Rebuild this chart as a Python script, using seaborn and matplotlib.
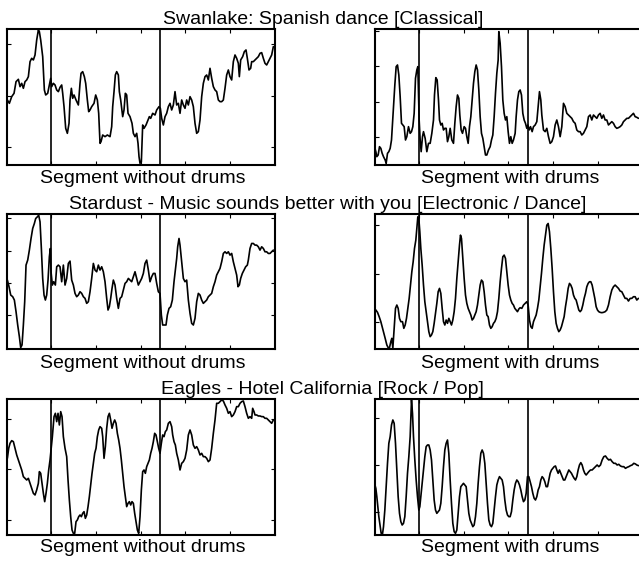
import matplotlib
matplotlib.use("Agg")
import matplotlib.pyplot as plt
import seaborn as sns
import pandas as pd

# ---------------- data (lag, autocorrelation in arbitrary units) ----------------
titles = [
    "Swanlake: Spanish dance [Classical]",
    "Stardust - Music sounds better with you [Electronic / Dance]",
    "Eagles - Hotel California [Rock / Pop]",
]
segment_labels = ["Segment without drums", "Segment with drums"]

swan_without = [(2,195),(8,185),(15,205),(22,215),(28,250),(35,257),(40,235),(45,245),(50,230),(55,250),(60,255),(65,265),(70,310),(75,320),(80,315),(85,330),(90,375),(95,405),(98,400),(102,375),(108,325),(113,225),(117,210),(123,215),(128,240),(132,260),(135,235),(140,245),(145,240),(150,225),(155,220),(160,233),(165,240),(168,215),(172,175),(177,110),(182,95),(187,125),(190,195),(194,230),(198,200),(202,210),(208,195),(215,180),(220,245),(223,275),(228,280),(233,265),(237,245),(242,195),(246,160),(250,165),(255,175),(262,185),(267,210),(272,195),(276,155),(280,65),(283,70),(288,90),(295,85),(302,90),(310,85),(315,115),(318,175),(322,220),(326,270),(330,280),(335,270),(338,220),(342,195),(348,145),(352,165),(356,215),(360,210),(364,155),(370,145),(376,125),(380,95),(385,85),(390,95),(394,65),(397,25),(400,5),(404,10),(408,120),(412,110),(418,120),(422,130),(428,145),(432,140),(438,155),(445,150),(450,165),(457,175),(461,170),(465,140),(470,120),(475,145),(480,155),(485,175),(490,185),(495,165),(500,180),(505,220),(510,180),(515,185),(520,155),(525,195),(530,180),(535,170),(540,195),(545,180),(550,205),(555,195),(560,175),(565,125),(570,95),(575,100),(580,135),(585,205),(590,245),(595,265),(600,270),(605,255),(610,290),(615,260),(620,235),(625,225),(630,220),(635,195),(640,190),(645,190),(650,195),(655,230),(660,270),(665,285),(670,265),(675,255),(680,310),(685,330),(690,320),(695,305),(698,265),(702,315),(708,325),(713,340),(718,345),(722,320),(727,285),(732,290),(735,310),(740,310),(745,315),(750,320),(755,325),(760,335),(765,337),(770,320),(775,305),(780,300),(785,310),(790,320),(795,330),(800,355)]

swan_with = [(0,55),(4,40),(7,25),(11,30),(15,55),(19,50),(23,35),(27,25),(32,15),(35,5),(39,35),(43,40),(47,50),(51,75),(54,125),(57,175),(61,240),(65,295),(69,300),(73,270),(77,205),(81,125),(85,120),(89,115),(93,75),(97,85),(102,115),(107,95),(111,100),(115,115),(119,155),(123,260),(127,285),(130,295),(134,135),(137,75),(140,40),(144,85),(147,100),(152,80),(157,40),(162,65),(167,65),(172,95),(177,135),(180,210),(184,262),(188,255),(192,195),(195,135),(199,120),(203,125),(207,105),(211,110),(215,110),(219,70),(223,85),(227,110),(232,75),(237,65),(241,125),(245,175),(249,210),(253,200),(256,150),(260,105),(264,95),(269,115),(273,110),(277,85),(281,65),(285,115),(289,145),(293,195),(297,245),(301,280),(305,300),(309,285),(313,225),(317,145),(321,95),(325,80),(329,55),(333,30),(337,30),(342,45),(347,55),(351,75),(355,90),(359,145),(363,215),(367,275),(371,315),(373,400),(377,365),(381,295),(385,195),(389,155),(393,135),(397,145),(401,100),(405,65),(409,85),(413,65),(417,75),(422,95),(425,145),(429,195),(433,220),(437,225),(441,210),(445,155),(449,135),(453,125),(457,110),(460,120),(464,105),(468,115),(473,100),(477,115),(482,120),(487,130),(492,185),(495,220),(499,195),(502,150),(507,105),(512,100),(517,110),(522,85),(527,65),(532,70),(537,85),(542,120),(547,135),(552,115),(557,85),(562,115),(567,185),(572,175),(577,155),(582,150),(587,145),(592,140),(597,130),(602,125),(607,105),(612,100),(617,100),(622,90),(627,95),(632,105),(637,115),(642,145),(647,150),(652,135),(657,150),(662,145),(667,140),(672,150),(677,155),(682,140),(687,150),(692,135),(697,135),(702,120),(707,125),(712,130),(717,125),(722,115),(727,110),(732,112),(737,115),(742,120),(747,130),(752,135),(757,140),(762,140),(767,145),(772,150),(777,155),(782,145),(787,143),(792,140)]

stardust_without = [(2,208),(7,188),(12,163),(18,158),(23,148),(28,113),(33,73),(38,38),(42,5),(46,13),(50,73),(54,143),(58,253),(63,268),(68,298),(73,333),(78,363),(83,378),(87,393),(92,398),(96,403),(100,383),(104,303),(108,213),(112,163),(116,148),(120,163),(124,208),(128,278),(131,303),(133,233),(137,193),(141,203),(146,193),(150,248),(155,253),(160,248),(165,203),(170,253),(175,193),(180,213),(185,258),(190,265),(195,208),(200,193),(205,168),(210,158),(215,163),(220,173),(225,168),(230,158),(235,153),(240,138),(245,143),(250,173),(255,213),(260,258),(265,238),(270,233),(275,253),(280,238),(285,248),(290,233),(295,203),(300,153),(304,118),(308,128),(312,153),(316,183),(320,208),(325,193),(330,153),(335,123),(340,153),(345,158),(350,178),(355,198),(360,203),(365,213),(370,208),(375,203),(380,218),(385,233),(390,213),(395,193),(400,203),(405,213),(410,228),(415,258),(420,268),(425,238),(430,203),(435,218),(440,228),(445,228),(450,198),(455,173),(460,168),(464,103),(468,73),(473,73),(478,73),(482,103),(487,123),(492,128),(497,148),(502,203),(506,238),(510,273),(513,308),(517,333),(520,313),(525,263),(530,213),(535,203),(540,208),(545,148),(550,108),(555,78),(560,73),(565,93),(570,143),(575,168),(580,163),(585,148),(590,138),(595,143),(600,148),(605,158),(610,163),(615,168),(620,188),(625,203),(630,223),(635,233),(640,243),(645,263),(650,288),(655,293),(660,288),(665,293),(670,283),(675,288),(680,263),(685,243),(690,223),(694,188),(698,193),(702,213),(707,228),(712,238),(717,248),(722,253),(725,268),(730,303),(735,318),(740,318),(745,313),(750,313),(755,308),(760,298),(765,308),(770,303),(775,293),(780,293),(785,288),(790,288),(795,293),(800,298)]

stardust_with = [(0,123),(4,118),(9,111),(14,98),(19,83),(23,68),(27,53),(32,33),(37,13),(42,3),(45,5),(49,23),(52,33),(55,3),(57,33),(60,73),(63,123),(67,133),(71,123),(75,93),(79,83),(84,83),(88,63),(92,73),(96,93),(100,123),(104,153),(108,193),(112,233),(116,263),(120,303),(124,328),(127,363),(130,398),(133,393),(136,353),(139,303),(143,253),(147,193),(151,143),(155,113),(159,83),(163,53),(167,38),(171,43),(175,53),(179,78),(183,108),(187,138),(191,173),(195,183),(199,168),(203,123),(207,83),(211,73),(215,88),(219,78),(223,93),(227,83),(231,73),(235,88),(239,113),(243,153),(247,213),(251,263),(255,313),(258,343),(261,333),(265,273),(269,213),(273,163),(277,138),(281,123),(285,113),(289,103),(293,88),(297,93),(301,103),(305,113),(309,133),(313,163),(317,193),(321,208),(325,203),(329,173),(333,133),(337,103),(341,98),(345,73),(349,63),(353,68),(357,78),(361,83),(365,93),(369,113),(373,153),(377,203),(381,243),(385,278),(389,283),(393,273),(397,233),(401,193),(405,163),(409,148),(413,138),(417,133),(421,123),(425,118),(429,113),(433,121),(437,125),(442,123),(447,133),(452,138),(457,143),(461,133),(465,88),(469,68),(473,63),(477,83),(481,93),(485,103),(489,123),(493,148),(497,188),(501,228),(505,273),(509,313),(513,343),(517,373),(521,378),(525,353),(529,303),(533,243),(537,173),(541,113),(545,78),(549,63),(553,53),(557,58),(561,68),(565,83),(569,98),(573,128),(577,153),(581,183),(585,198),(589,193),(593,183),(597,163),(601,153),(605,148),(609,133),(613,118),(617,113),(621,118),(625,133),(629,153),(633,168),(637,188),(641,198),(645,203),(649,203),(653,193),(657,173),(661,153),(665,128),(669,118),(673,113),(677,111),(682,110),(687,111),(692,113),(697,118),(702,133),(707,158),(712,178),(717,188),(722,193),(727,188),(732,183),(737,175),(742,173),(747,163),(752,153),(757,153),(762,145),(767,153),(772,153),(777,158),(782,158),(787,148),(792,153)]

eagles_without = [(2,230),(6,260),(10,275),(15,283),(20,280),(25,260),(30,240),(35,225),(40,210),(45,195),(50,175),(55,170),(60,165),(65,170),(70,155),(75,140),(80,125),(85,120),(90,135),(95,155),(98,190),(102,185),(106,155),(110,125),(114,100),(118,125),(122,155),(126,195),(130,225),(133,255),(137,295),(142,355),(146,365),(150,340),(154,365),(158,330),(162,370),(166,355),(170,295),(175,260),(180,235),(184,165),(188,105),(192,55),(196,15),(200,5),(204,5),(208,40),(212,45),(216,55),(220,60),(224,55),(228,65),(232,70),(236,50),(240,60),(244,85),(248,115),(252,150),(256,185),(260,215),(264,245),(268,260),(272,295),(276,315),(280,325),(285,320),(288,295),(292,230),(296,265),(300,320),(304,355),(308,365),(312,345),(316,320),(320,335),(324,345),(328,335),(332,305),(336,285),(340,260),(344,225),(348,185),(352,145),(356,115),(360,85),(364,95),(368,100),(372,90),(376,100),(380,95),(384,65),(388,40),(392,15),(396,5),(400,55),(404,135),(408,190),(412,195),(416,185),(420,205),(424,215),(428,225),(432,245),(436,260),(440,280),(444,305),(448,300),(452,280),(456,260),(460,245),(464,275),(468,300),(472,295),(476,310),(480,315),(485,335),(490,340),(495,325),(498,300),(502,280),(506,270),(510,245),(515,225),(520,195),(525,215),(530,220),(535,230),(540,255),(545,300),(550,315),(555,300),(560,270),(565,260),(570,265),(575,255),(580,240),(585,245),(590,235),(595,235),(600,230),(605,220),(610,225),(615,260),(620,305),(625,345),(630,395),(635,395),(640,400),(645,405),(650,402),(655,390),(660,380),(665,365),(670,370),(675,355),(680,360),(685,370),(690,385),(695,385),(700,395),(705,400),(710,402),(715,385),(720,365),(725,350),(730,355),(735,350),(738,380),(742,370),(745,360),(750,360),(755,357),(760,357),(765,355),(770,355),(775,350),(780,350),(785,345),(790,340),(795,335),(800,345)]

eagles_with = [(0,155),(4,140),(7,115),(10,85),(13,55),(17,25),(20,5),(24,3),(27,25),(31,75),(35,145),(39,215),(43,275),(47,295),(51,330),(55,345),(59,335),(63,275),(67,195),(71,115),(75,65),(79,40),(83,30),(87,35),(91,55),(95,115),(99,185),(103,235),(107,295),(111,405),(114,365),(117,295),(121,225),(125,165),(129,115),(133,75),(136,85),(139,115),(143,155),(147,195),(151,235),(155,265),(159,270),(163,270),(167,255),(171,225),(175,165),(179,105),(183,75),(187,65),(191,70),(195,75),(199,95),(203,145),(207,205),(211,255),(215,275),(219,285),(223,245),(227,165),(231,95),(235,35),(239,10),(243,5),(247,15),(251,65),(255,115),(259,145),(263,150),(267,155),(271,150),(275,145),(279,105),(283,65),(287,45),(291,35),(295,25),(299,30),(303,55),(307,95),(311,155),(315,205),(319,245),(323,255),(327,245),(331,215),(335,155),(339,95),(343,45),(347,30),(351,25),(355,35),(359,75),(363,115),(367,150),(371,165),(375,175),(379,170),(383,165),(387,145),(391,105),(395,75),(399,60),(403,55),(407,55),(411,70),(415,105),(419,135),(423,155),(427,165),(431,160),(435,150),(439,135),(443,115),(447,100),(451,105),(455,125),(459,175),(463,175),(467,160),(471,145),(475,125),(479,110),(483,105),(487,115),(491,135),(495,145),(499,165),(503,175),(507,170),(511,160),(515,145),(519,145),(523,165),(527,185),(531,195),(535,200),(539,205),(543,207),(547,195),(551,185),(555,195),(559,185),(563,175),(567,165),(571,165),(575,175),(579,185),(583,195),(587,190),(591,185),(595,177),(599,170),(603,165),(607,175),(611,195),(615,210),(619,217),(623,210),(627,195),(631,185),(635,180),(639,185),(643,190),(648,195),(653,195),(658,200),(663,205),(668,210),(673,205),(678,210),(683,225),(688,235),(693,237),(698,230),(703,225),(708,227),(713,220),(718,215),(723,215),(728,210),(733,212),(738,207),(743,205),(748,205),(753,200),(758,203),(763,205),(768,208),(773,210),(778,215),(783,213),(787,210),(792,208)]

# beat-period markers (lag)
marker_lags = [133, 460]
lag_ticks = [134, 268, 402, 536, 670]
# y tick values per panel
yticks_panels = [
    [55, 208, 362], [85, 190, 297, 402],
    [103, 198, 296, 393], [81, 225, 373],
    [45, 197, 347], [70, 210, 350],
]
ymax_rows = [407, 405, 407]
lag_max = 805

series = [swan_without, swan_with, stardust_without, stardust_with, eagles_without, eagles_with]

# ---------------- styling ----------------
sns.set_style("white")
plt.rcParams["font.family"] = ["Liberation Sans", "DejaVu Sans"]

W, H = 639, 563
fig = plt.figure(figsize=(W / 100, H / 100), dpi=100)

col_left = [6.7, 374.5]
ax_w = 268.3
row_top = [29.3, 214.5, 399.3]
row_bot = [165.0, 349.3, 535.0]
title_base = [24.0, 209.3, 394.3]
title_cx = [323, 328, 322]
label_base = [183.0, 367.5, 552.5]

for r in range(3):
    fig.text(title_cx[r] / W, 1 - title_base[r] / H, titles[r], ha="center",
             va="baseline", fontsize=14, color="black")
    for c in range(2):
        i = r * 2 + c
        x0 = col_left[c] / W
        y0 = 1 - row_bot[r] / H
        ax = fig.add_axes([x0, y0, ax_w / W, (row_bot[r] - row_top[r]) / H])
        df = pd.DataFrame(series[i], columns=["lag", "value"])
        sns.lineplot(data=df, x="lag", y="value", ax=ax, color="black",
                     linewidth=1.2, estimator=None, sort=False)
        for m in marker_lags:
            ax.axvline(m, color="black", linewidth=1.2)
        ax.set_xlim(0, lag_max)
        ax.set_ylim(0, ymax_rows[r])
        ax.set_xticks(lag_ticks)
        ax.set_yticks(yticks_panels[i])
        ax.set_xticklabels([])
        ax.set_yticklabels([])
        ax.set_xlabel("")
        ax.set_ylabel("")
        ax.tick_params(direction="in", length=3, width=0.8, color="black",
                       top=True, bottom=True, left=True, right=True)
        for s in ax.spines.values():
            s.set_visible(True)
            s.set_color("black")
            s.set_linewidth(1.5)
        cx = (col_left[c] + ax_w / 2 + 2) / W
        fig.text(cx, 1 - label_base[r] / H, segment_labels[c], ha="center",
                 va="baseline", fontsize=14, color="black")

fig.savefig("out.png", dpi=100)
